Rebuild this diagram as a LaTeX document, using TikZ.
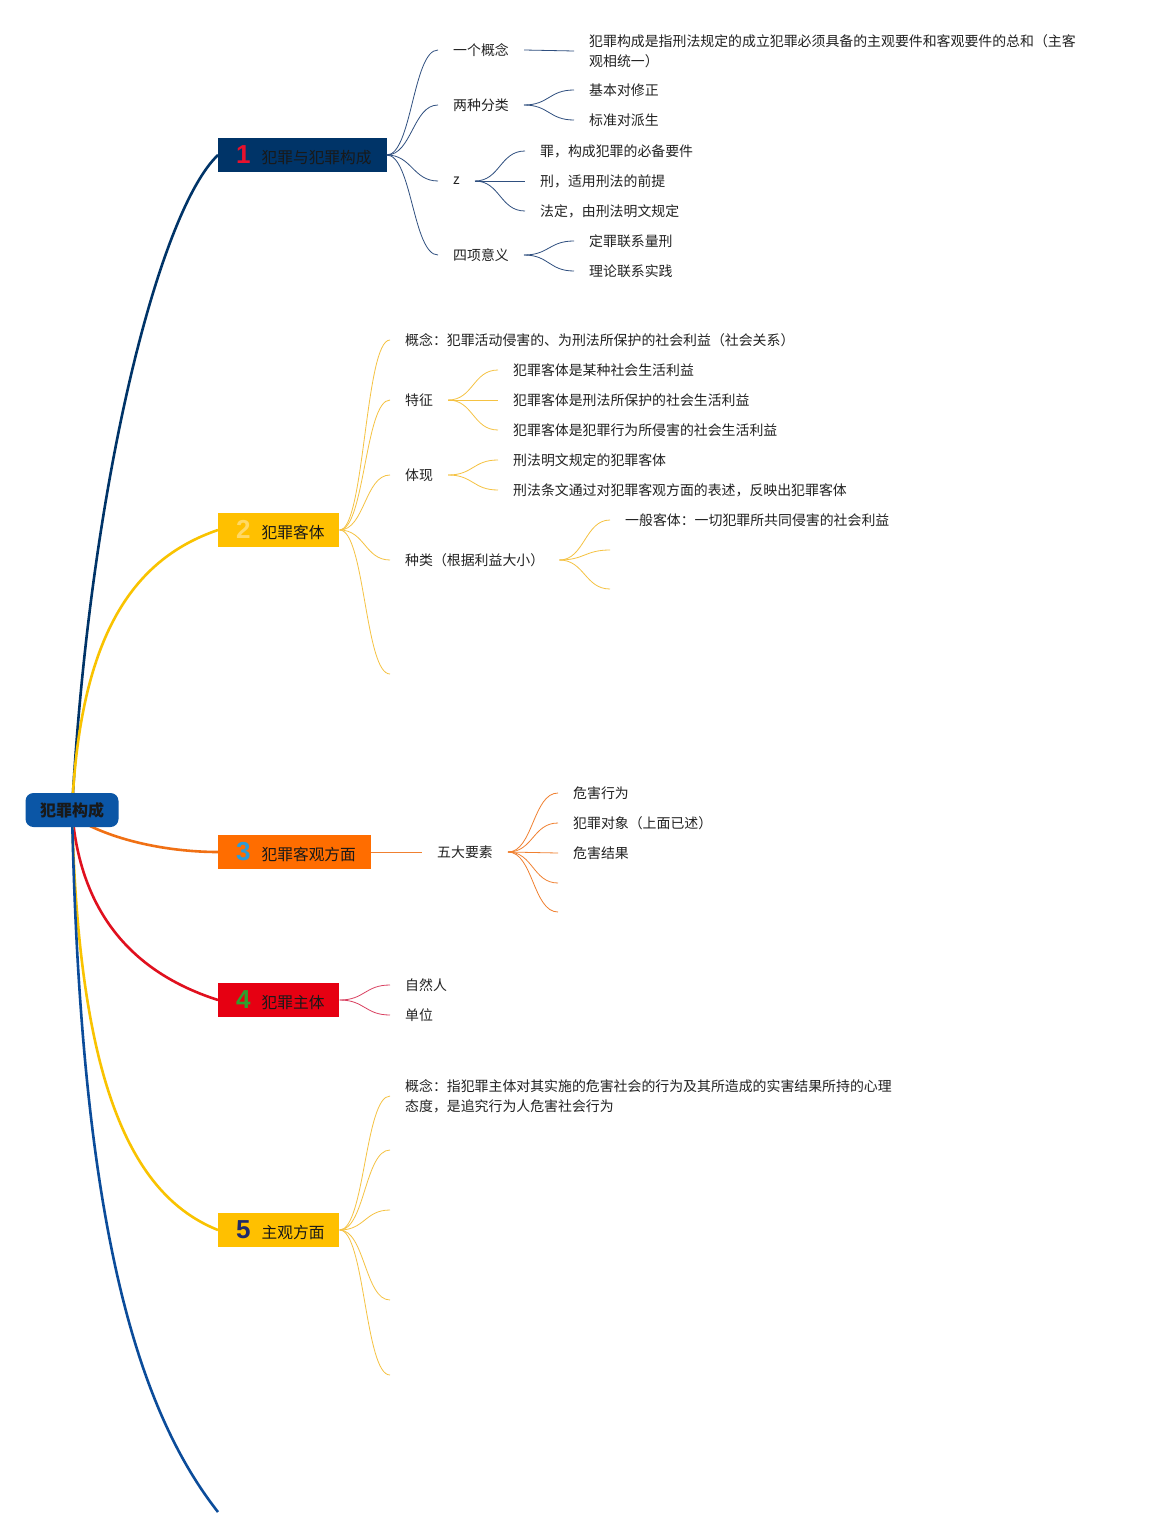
\documentclass[tikz,border=0pt]{standalone}
\usepackage{fontspec}
\setmainfont{Noto Sans CJK SC}
\newfontfamily\numfont{Liberation Sans}
\definecolor{cnavy}{HTML}{003468}
\definecolor{croot}{HTML}{0B56A6}
\definecolor{cyel}{HTML}{FFC000}
\definecolor{cyelline}{HTML}{F9C300}
\definecolor{corange}{HTML}{FF6D00}
\definecolor{corline}{HTML}{F07014}
\definecolor{cred}{HTML}{E60012}
\definecolor{credline}{HTML}{E0101E}
\definecolor{cbottom}{HTML}{0B4C9A}
\definecolor{lnavy}{HTML}{2F4F7F}
\definecolor{lyel}{HTML}{F5C242}
\definecolor{lor}{HTML}{F08030}
\definecolor{lred}{HTML}{D94060}
\definecolor{txt}{HTML}{222222}
\definecolor{numone}{HTML}{E8112D}
\definecolor{numtwo}{HTML}{FFD966}
\definecolor{numthree}{HTML}{2E9BD6}
\definecolor{numfour}{HTML}{2EA02E}
\definecolor{numfive}{HTML}{1F2A6B}
\newcommand\bignum[2]{{\numfont\bfseries\fontsize{26}{26}\selectfont\color{#1}#2}}
\newcommand\mainlabel[3]{\hspace{3pt}\bignum{#1}{#2}\hspace{11pt}#3}
\begin{document}
\begin{tikzpicture}[x=1pt,y=-1pt,
  mainbox/.style={anchor=west, minimum height=34pt, inner xsep=15pt, inner ysep=0pt,
    font=\fontsize{15.7}{18}\selectfont, text=black!90},
  leaf/.style={anchor=west, inner xsep=15pt, inner ysep=2pt,
    font=\fontsize{13.9}{20}\selectfont, text=txt, align=left},
  trunk/.style={line width=2.6pt},
  twig/.style={line width=0.8pt}]
\fill[white] (0,0) rectangle (1149,1538);
\useasboundingbox (0,0) rectangle (1149,1538);

\coordinate (rc) at (72,810);
\coordinate (bend) at (218,1512);

% trunk curves
\draw[trunk, cnavy] (rc) .. controls (90,480) and (160,210) .. (218,155);
\draw[trunk, cyelline] (rc) .. controls (80,640) and (130,560) .. (218,530);
\draw[trunk, corline] (90,826) .. controls (130,845) and (180,852) .. (218,852);
\draw[trunk, credline] (rc) .. controls (80,920) and (140,975) .. (218,1000);
\draw[trunk, cyelline] (rc) .. controls (78,1080) and (130,1195) .. (218,1230);
\draw[trunk, cbottom] (rc) .. controls (80,1200) and (130,1400) .. (bend);

\node[fill=croot, rounded corners=8pt, minimum width=93pt, minimum height=34pt, inner sep=0pt,
  font=\fontsize{16}{18}\selectfont\bfseries, text=black!90] (root) at (rc) {犯罪构成};

\node[mainbox, fill=cnavy] (n1) at (218,155) {\mainlabel{numone}{1}{犯罪与犯罪构成}};
\node[mainbox, fill=cyel] (n2) at (218,530) {\mainlabel{numtwo}{2}{犯罪客体}};
\node[mainbox, fill=corange] (n3) at (218,852) {\mainlabel{numthree}{3}{犯罪客观方面}};
\node[mainbox, fill=cred] (n4) at (218,1000) {\mainlabel{numfour}{4}{犯罪主体}};
\node[mainbox, fill=cyel] (n5) at (218,1230) {\mainlabel{numfive}{5}{主观方面}};

% ---------- branch 1 ----------
\node[leaf] (n11) at (438,50) {一个概念};
\node[leaf] (n11a) at (574,51) {犯罪构成是指刑法规定的成立犯罪必须具备的主观要件和客观要件的总和（主客\\观相统一）};
\node[leaf] (n12) at (438,105) {两种分类};
\node[leaf] (n12a) at (574,90) {基本对修正};
\node[leaf] (n12b) at (574,120) {标准对派生};
\node[leaf] (n13) at (438,181) {z};
\node[leaf] (n13a) at (525,151) {罪，构成犯罪的必备要件};
\node[leaf] (n13b) at (525,181) {刑，适用刑法的前提};
\node[leaf] (n13c) at (525,211) {法定，由刑法明文规定};
\node[leaf] (n14) at (438,255) {四项意义};
\node[leaf] (n14a) at (574,241) {定罪联系量刑};
\node[leaf] (n14b) at (574,271) {理论联系实践};

\foreach \a/\b in {n1/n11,n1/n12,n1/n13,n1/n14,n11/n11a,n12/n12a,n12/n12b,n13/n13a,n13/n13b,n13/n13c,n14/n14a,n14/n14b}
  \draw[twig, lnavy] (\a.east) .. controls +(25,0) and +(-25,0) .. (\b.west);

% ---------- branch 2 ----------
\node[leaf] (n21) at (390,340) {概念：犯罪活动侵害的、为刑法所保护的社会利益（社会关系）};
\node[leaf] (n22) at (390,400) {特征};
\node[leaf] (n22a) at (498,370) {犯罪客体是某种社会生活利益};
\node[leaf] (n22b) at (498,400) {犯罪客体是刑法所保护的社会生活利益};
\node[leaf] (n22c) at (498,430) {犯罪客体是犯罪行为所侵害的社会生活利益};
\node[leaf] (n23) at (390,475) {体现};
\node[leaf] (n23a) at (498,460) {刑法明文规定的犯罪客体};
\node[leaf] (n23b) at (498,490) {刑法条文通过对犯罪客观方面的表述，反映出犯罪客体};
\node[leaf] (n24) at (390,560) {种类（根据利益大小）};
\node[leaf] (n24a) at (610,520) {一般客体：一切犯罪所共同侵害的社会利益};
\coordinate (e24b) at (610,550);
\coordinate (e24c) at (610,589);
\coordinate (e25) at (390,674);

\foreach \a/\b in {n2.east/n21.west,n2.east/n22.west,n2.east/n23.west,n2.east/n24.west,n2.east/e25,
  n22.east/n22a.west,n22.east/n22b.west,n22.east/n22c.west,n23.east/n23a.west,n23.east/n23b.west,
  n24.east/n24a.west,n24.east/e24b,n24.east/e24c}
  \draw[twig, lyel] (\a) .. controls +(25,0) and +(-25,0) .. (\b);

% ---------- branch 3 ----------
\node[leaf] (n31) at (422,852) {五大要素};
\node[leaf] (n31a) at (558,793) {危害行为};
\node[leaf] (n31b) at (558,823) {犯罪对象（上面已述）};
\node[leaf] (n31c) at (558,853) {危害结果};
\coordinate (e31d) at (558,883);
\coordinate (e31e) at (558,912);
\foreach \a/\b in {n3.east/n31.west,n31.east/n31a.west,n31.east/n31b.west,n31.east/n31c.west,n31.east/e31d,n31.east/e31e}
  \draw[twig, lor] (\a) .. controls +(25,0) and +(-25,0) .. (\b);

% ---------- branch 4 ----------
\node[leaf] (n41) at (390,985) {自然人};
\node[leaf] (n42) at (390,1015) {单位};
\foreach \b in {n41,n42}
  \draw[twig, lred] (n4.east) .. controls +(25,0) and +(-25,0) .. (\b.west);

% ---------- branch 5 ----------
\node[leaf] (n51) at (390,1096) {概念：指犯罪主体对其实施的危害社会的行为及其所造成的实害结果所持的心理\\态度，是追究行为人危害社会行为};
\coordinate (e52) at (390,1150);
\coordinate (e53) at (390,1210);
\coordinate (e54) at (390,1300);
\coordinate (e55) at (390,1375);
\foreach \b in {n51.west,e52,e53,e54,e55}
  \draw[twig, lyel] (n5.east) .. controls +(25,0) and +(-25,0) .. (\b);
\end{tikzpicture}
\end{document}
